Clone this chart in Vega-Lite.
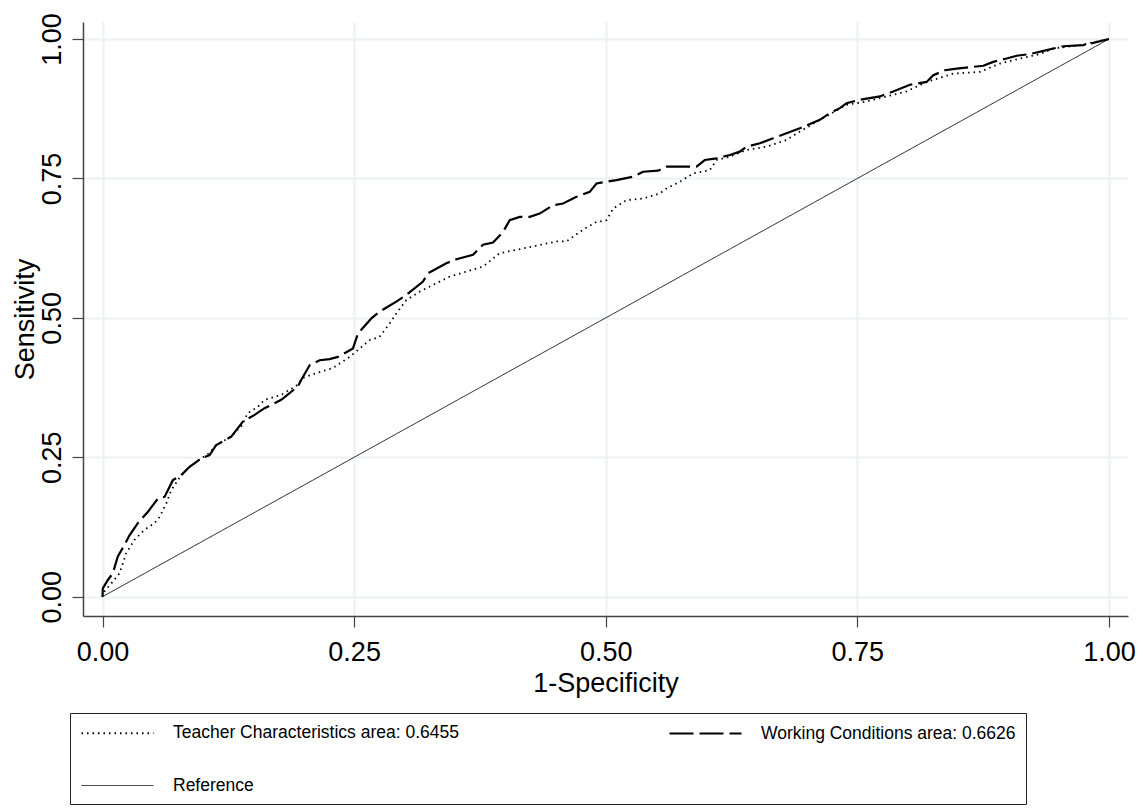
{
  "$schema": "https://vega.github.io/schema/vega-lite/v6.json",
  "width": 1045,
  "height": 594,
  "autosize": "none",
  "padding": {"left": 83, "top": 22, "right": 15, "bottom": 192},
  "background": "white",
  "config": {
    "view": {"stroke": null},
    "font": "Liberation Sans",
    "axis": {
      "labelFont": "Liberation Sans",
      "titleFont": "Liberation Sans",
      "labelFontSize": 27,
      "titleFontSize": 27,
      "labelColor": "#000",
      "titleColor": "#000",
      "titleFontWeight": "normal",
      "domainColor": "#444",
      "domainWidth": 1.5,
      "tickColor": "#444",
      "tickWidth": 1.2,
      "tickSize": 11,
      "gridColor": "#eaf2f3",
      "gridWidth": 2
    }
  },
  "datasets": {
    "roc": [
      {"series": "Teacher Characteristics area: 0.6455", "fpr": 0, "tpr": 0},
      {"series": "Teacher Characteristics area: 0.6455", "fpr": 0.0003, "tpr": 0.006},
      {"series": "Teacher Characteristics area: 0.6455", "fpr": 0.0102, "tpr": 0.027},
      {"series": "Teacher Characteristics area: 0.6455", "fpr": 0.0169, "tpr": 0.042},
      {"series": "Teacher Characteristics area: 0.6455", "fpr": 0.0236, "tpr": 0.078},
      {"series": "Teacher Characteristics area: 0.6455", "fpr": 0.0318, "tpr": 0.102},
      {"series": "Teacher Characteristics area: 0.6455", "fpr": 0.0417, "tpr": 0.120},
      {"series": "Teacher Characteristics area: 0.6455", "fpr": 0.0517, "tpr": 0.132},
      {"series": "Teacher Characteristics area: 0.6455", "fpr": 0.0567, "tpr": 0.143},
      {"series": "Teacher Characteristics area: 0.6455", "fpr": 0.0633, "tpr": 0.167},
      {"series": "Teacher Characteristics area: 0.6455", "fpr": 0.0683, "tpr": 0.191},
      {"series": "Teacher Characteristics area: 0.6455", "fpr": 0.0782, "tpr": 0.218},
      {"series": "Teacher Characteristics area: 0.6455", "fpr": 0.0865, "tpr": 0.233},
      {"series": "Teacher Characteristics area: 0.6455", "fpr": 0.0981, "tpr": 0.248},
      {"series": "Teacher Characteristics area: 0.6455", "fpr": 0.1064, "tpr": 0.258},
      {"series": "Teacher Characteristics area: 0.6455", "fpr": 0.1130, "tpr": 0.272},
      {"series": "Teacher Characteristics area: 0.6455", "fpr": 0.1279, "tpr": 0.287},
      {"series": "Teacher Characteristics area: 0.6455", "fpr": 0.1390, "tpr": 0.308},
      {"series": "Teacher Characteristics area: 0.6455", "fpr": 0.1441, "tpr": 0.329},
      {"series": "Teacher Characteristics area: 0.6455", "fpr": 0.1541, "tpr": 0.340},
      {"series": "Teacher Characteristics area: 0.6455", "fpr": 0.1610, "tpr": 0.353},
      {"series": "Teacher Characteristics area: 0.6455", "fpr": 0.1776, "tpr": 0.362},
      {"series": "Teacher Characteristics area: 0.6455", "fpr": 0.1941, "tpr": 0.380},
      {"series": "Teacher Characteristics area: 0.6455", "fpr": 0.1988, "tpr": 0.392},
      {"series": "Teacher Characteristics area: 0.6455", "fpr": 0.2124, "tpr": 0.401},
      {"series": "Teacher Characteristics area: 0.6455", "fpr": 0.2289, "tpr": 0.410},
      {"series": "Teacher Characteristics area: 0.6455", "fpr": 0.2455, "tpr": 0.430},
      {"series": "Teacher Characteristics area: 0.6455", "fpr": 0.2555, "tpr": 0.445},
      {"series": "Teacher Characteristics area: 0.6455", "fpr": 0.2654, "tpr": 0.460},
      {"series": "Teacher Characteristics area: 0.6455", "fpr": 0.2753, "tpr": 0.466},
      {"series": "Teacher Characteristics area: 0.6455", "fpr": 0.2853, "tpr": 0.490},
      {"series": "Teacher Characteristics area: 0.6455", "fpr": 0.2919, "tpr": 0.508},
      {"series": "Teacher Characteristics area: 0.6455", "fpr": 0.3019, "tpr": 0.532},
      {"series": "Teacher Characteristics area: 0.6455", "fpr": 0.3151, "tpr": 0.547},
      {"series": "Teacher Characteristics area: 0.6455", "fpr": 0.3283, "tpr": 0.559},
      {"series": "Teacher Characteristics area: 0.6455", "fpr": 0.3449, "tpr": 0.574},
      {"series": "Teacher Characteristics area: 0.6455", "fpr": 0.3615, "tpr": 0.583},
      {"series": "Teacher Characteristics area: 0.6455", "fpr": 0.3780, "tpr": 0.592},
      {"series": "Teacher Characteristics area: 0.6455", "fpr": 0.3946, "tpr": 0.616},
      {"series": "Teacher Characteristics area: 0.6455", "fpr": 0.4112, "tpr": 0.622},
      {"series": "Teacher Characteristics area: 0.6455", "fpr": 0.4277, "tpr": 0.628},
      {"series": "Teacher Characteristics area: 0.6455", "fpr": 0.4510, "tpr": 0.637},
      {"series": "Teacher Characteristics area: 0.6455", "fpr": 0.4609, "tpr": 0.637},
      {"series": "Teacher Characteristics area: 0.6455", "fpr": 0.4774, "tpr": 0.658},
      {"series": "Teacher Characteristics area: 0.6455", "fpr": 0.4908, "tpr": 0.672},
      {"series": "Teacher Characteristics area: 0.6455", "fpr": 0.5007, "tpr": 0.675},
      {"series": "Teacher Characteristics area: 0.6455", "fpr": 0.5073, "tpr": 0.696},
      {"series": "Teacher Characteristics area: 0.6455", "fpr": 0.5206, "tpr": 0.711},
      {"series": "Teacher Characteristics area: 0.6455", "fpr": 0.5371, "tpr": 0.714},
      {"series": "Teacher Characteristics area: 0.6455", "fpr": 0.5537, "tpr": 0.723},
      {"series": "Teacher Characteristics area: 0.6455", "fpr": 0.5603, "tpr": 0.732},
      {"series": "Teacher Characteristics area: 0.6455", "fpr": 0.5736, "tpr": 0.744},
      {"series": "Teacher Characteristics area: 0.6455", "fpr": 0.5868, "tpr": 0.759},
      {"series": "Teacher Characteristics area: 0.6455", "fpr": 0.6034, "tpr": 0.765},
      {"series": "Teacher Characteristics area: 0.6455", "fpr": 0.6100, "tpr": 0.783},
      {"series": "Teacher Characteristics area: 0.6455", "fpr": 0.6233, "tpr": 0.789},
      {"series": "Teacher Characteristics area: 0.6455", "fpr": 0.6399, "tpr": 0.801},
      {"series": "Teacher Characteristics area: 0.6455", "fpr": 0.6597, "tpr": 0.807},
      {"series": "Teacher Characteristics area: 0.6455", "fpr": 0.6796, "tpr": 0.819},
      {"series": "Teacher Characteristics area: 0.6455", "fpr": 0.6928, "tpr": 0.834},
      {"series": "Teacher Characteristics area: 0.6455", "fpr": 0.7127, "tpr": 0.855},
      {"series": "Teacher Characteristics area: 0.6455", "fpr": 0.7393, "tpr": 0.882},
      {"series": "Teacher Characteristics area: 0.6455", "fpr": 0.7591, "tpr": 0.888},
      {"series": "Teacher Characteristics area: 0.6455", "fpr": 0.7790, "tpr": 0.897},
      {"series": "Teacher Characteristics area: 0.6455", "fpr": 0.7989, "tpr": 0.906},
      {"series": "Teacher Characteristics area: 0.6455", "fpr": 0.8188, "tpr": 0.923},
      {"series": "Teacher Characteristics area: 0.6455", "fpr": 0.8452, "tpr": 0.938},
      {"series": "Teacher Characteristics area: 0.6455", "fpr": 0.8718, "tpr": 0.941},
      {"series": "Teacher Characteristics area: 0.6455", "fpr": 0.8917, "tpr": 0.956},
      {"series": "Teacher Characteristics area: 0.6455", "fpr": 0.9115, "tpr": 0.965},
      {"series": "Teacher Characteristics area: 0.6455", "fpr": 0.9314, "tpr": 0.973},
      {"series": "Teacher Characteristics area: 0.6455", "fpr": 0.9447, "tpr": 0.983},
      {"series": "Teacher Characteristics area: 0.6455", "fpr": 0.9712, "tpr": 0.989},
      {"series": "Teacher Characteristics area: 0.6455", "fpr": 1, "tpr": 1},
      {"series": "Working Conditions area: 0.6626", "fpr": 0, "tpr": 0},
      {"series": "Working Conditions area: 0.6626", "fpr": 0.0003, "tpr": 0.015},
      {"series": "Working Conditions area: 0.6626", "fpr": 0.0053, "tpr": 0.030},
      {"series": "Working Conditions area: 0.6626", "fpr": 0.0102, "tpr": 0.042},
      {"series": "Working Conditions area: 0.6626", "fpr": 0.0152, "tpr": 0.072},
      {"series": "Working Conditions area: 0.6626", "fpr": 0.0219, "tpr": 0.093},
      {"series": "Working Conditions area: 0.6626", "fpr": 0.0268, "tpr": 0.110},
      {"series": "Working Conditions area: 0.6626", "fpr": 0.0351, "tpr": 0.132},
      {"series": "Working Conditions area: 0.6626", "fpr": 0.0450, "tpr": 0.152},
      {"series": "Working Conditions area: 0.6626", "fpr": 0.0550, "tpr": 0.176},
      {"series": "Working Conditions area: 0.6626", "fpr": 0.0616, "tpr": 0.179},
      {"series": "Working Conditions area: 0.6626", "fpr": 0.0699, "tpr": 0.209},
      {"series": "Working Conditions area: 0.6626", "fpr": 0.0782, "tpr": 0.218},
      {"series": "Working Conditions area: 0.6626", "fpr": 0.0865, "tpr": 0.233},
      {"series": "Working Conditions area: 0.6626", "fpr": 0.0981, "tpr": 0.248},
      {"series": "Working Conditions area: 0.6626", "fpr": 0.1064, "tpr": 0.254},
      {"series": "Working Conditions area: 0.6626", "fpr": 0.1130, "tpr": 0.272},
      {"series": "Working Conditions area: 0.6626", "fpr": 0.1279, "tpr": 0.287},
      {"series": "Working Conditions area: 0.6626", "fpr": 0.1395, "tpr": 0.314},
      {"series": "Working Conditions area: 0.6626", "fpr": 0.1511, "tpr": 0.326},
      {"series": "Working Conditions area: 0.6626", "fpr": 0.1610, "tpr": 0.338},
      {"series": "Working Conditions area: 0.6626", "fpr": 0.1776, "tpr": 0.353},
      {"series": "Working Conditions area: 0.6626", "fpr": 0.1941, "tpr": 0.377},
      {"series": "Working Conditions area: 0.6626", "fpr": 0.1975, "tpr": 0.389},
      {"series": "Working Conditions area: 0.6626", "fpr": 0.2058, "tpr": 0.415},
      {"series": "Working Conditions area: 0.6626", "fpr": 0.2157, "tpr": 0.424},
      {"series": "Working Conditions area: 0.6626", "fpr": 0.2256, "tpr": 0.426},
      {"series": "Working Conditions area: 0.6626", "fpr": 0.2339, "tpr": 0.430},
      {"series": "Working Conditions area: 0.6626", "fpr": 0.2488, "tpr": 0.445},
      {"series": "Working Conditions area: 0.6626", "fpr": 0.2538, "tpr": 0.472},
      {"series": "Working Conditions area: 0.6626", "fpr": 0.2671, "tpr": 0.499},
      {"series": "Working Conditions area: 0.6626", "fpr": 0.2753, "tpr": 0.511},
      {"series": "Working Conditions area: 0.6626", "fpr": 0.2919, "tpr": 0.529},
      {"series": "Working Conditions area: 0.6626", "fpr": 0.3019, "tpr": 0.541},
      {"series": "Working Conditions area: 0.6626", "fpr": 0.3184, "tpr": 0.565},
      {"series": "Working Conditions area: 0.6626", "fpr": 0.3234, "tpr": 0.580},
      {"series": "Working Conditions area: 0.6626", "fpr": 0.3416, "tpr": 0.598},
      {"series": "Working Conditions area: 0.6626", "fpr": 0.3516, "tpr": 0.605},
      {"series": "Working Conditions area: 0.6626", "fpr": 0.3681, "tpr": 0.613},
      {"series": "Working Conditions area: 0.6626", "fpr": 0.3780, "tpr": 0.631},
      {"series": "Working Conditions area: 0.6626", "fpr": 0.3880, "tpr": 0.635},
      {"series": "Working Conditions area: 0.6626", "fpr": 0.3979, "tpr": 0.654},
      {"series": "Working Conditions area: 0.6626", "fpr": 0.4046, "tpr": 0.675},
      {"series": "Working Conditions area: 0.6626", "fpr": 0.4145, "tpr": 0.681},
      {"series": "Working Conditions area: 0.6626", "fpr": 0.4245, "tpr": 0.681},
      {"series": "Working Conditions area: 0.6626", "fpr": 0.4344, "tpr": 0.687},
      {"series": "Working Conditions area: 0.6626", "fpr": 0.4476, "tpr": 0.702},
      {"series": "Working Conditions area: 0.6626", "fpr": 0.4576, "tpr": 0.705},
      {"series": "Working Conditions area: 0.6626", "fpr": 0.4709, "tpr": 0.717},
      {"series": "Working Conditions area: 0.6626", "fpr": 0.4841, "tpr": 0.726},
      {"series": "Working Conditions area: 0.6626", "fpr": 0.4908, "tpr": 0.741},
      {"series": "Working Conditions area: 0.6626", "fpr": 0.5106, "tpr": 0.747},
      {"series": "Working Conditions area: 0.6626", "fpr": 0.5271, "tpr": 0.753},
      {"series": "Working Conditions area: 0.6626", "fpr": 0.5371, "tpr": 0.762},
      {"series": "Working Conditions area: 0.6626", "fpr": 0.5520, "tpr": 0.764},
      {"series": "Working Conditions area: 0.6626", "fpr": 0.5603, "tpr": 0.771},
      {"series": "Working Conditions area: 0.6626", "fpr": 0.5902, "tpr": 0.771},
      {"series": "Working Conditions area: 0.6626", "fpr": 0.5984, "tpr": 0.783},
      {"series": "Working Conditions area: 0.6626", "fpr": 0.6100, "tpr": 0.786},
      {"series": "Working Conditions area: 0.6626", "fpr": 0.6233, "tpr": 0.792},
      {"series": "Working Conditions area: 0.6626", "fpr": 0.6332, "tpr": 0.798},
      {"series": "Working Conditions area: 0.6626", "fpr": 0.6399, "tpr": 0.807},
      {"series": "Working Conditions area: 0.6626", "fpr": 0.6531, "tpr": 0.813},
      {"series": "Working Conditions area: 0.6626", "fpr": 0.6663, "tpr": 0.822},
      {"series": "Working Conditions area: 0.6626", "fpr": 0.6796, "tpr": 0.831},
      {"series": "Working Conditions area: 0.6626", "fpr": 0.6928, "tpr": 0.840},
      {"series": "Working Conditions area: 0.6626", "fpr": 0.7127, "tpr": 0.855},
      {"series": "Working Conditions area: 0.6626", "fpr": 0.7227, "tpr": 0.867},
      {"series": "Working Conditions area: 0.6626", "fpr": 0.7326, "tpr": 0.876},
      {"series": "Working Conditions area: 0.6626", "fpr": 0.7393, "tpr": 0.885},
      {"series": "Working Conditions area: 0.6626", "fpr": 0.7525, "tpr": 0.891},
      {"series": "Working Conditions area: 0.6626", "fpr": 0.7724, "tpr": 0.897},
      {"series": "Working Conditions area: 0.6626", "fpr": 0.7856, "tpr": 0.906},
      {"series": "Working Conditions area: 0.6626", "fpr": 0.8022, "tpr": 0.918},
      {"series": "Working Conditions area: 0.6626", "fpr": 0.8188, "tpr": 0.923},
      {"series": "Working Conditions area: 0.6626", "fpr": 0.8254, "tpr": 0.935},
      {"series": "Working Conditions area: 0.6626", "fpr": 0.8370, "tpr": 0.944},
      {"series": "Working Conditions area: 0.6626", "fpr": 0.8486, "tpr": 0.947},
      {"series": "Working Conditions area: 0.6626", "fpr": 0.8751, "tpr": 0.952},
      {"series": "Working Conditions area: 0.6626", "fpr": 0.8850, "tpr": 0.959},
      {"series": "Working Conditions area: 0.6626", "fpr": 0.8983, "tpr": 0.965},
      {"series": "Working Conditions area: 0.6626", "fpr": 0.9083, "tpr": 0.970},
      {"series": "Working Conditions area: 0.6626", "fpr": 0.9215, "tpr": 0.973},
      {"series": "Working Conditions area: 0.6626", "fpr": 0.9381, "tpr": 0.980},
      {"series": "Working Conditions area: 0.6626", "fpr": 0.9546, "tpr": 0.987},
      {"series": "Working Conditions area: 0.6626", "fpr": 0.9744, "tpr": 0.989},
      {"series": "Working Conditions area: 0.6626", "fpr": 0.9844, "tpr": 0.993},
      {"series": "Working Conditions area: 0.6626", "fpr": 1, "tpr": 1},
      {"series": "Reference", "fpr": 0, "tpr": 0},
      {"series": "Reference", "fpr": 1, "tpr": 1}
    ]
  },
  "data": {"name": "roc"},
  "mark": {"type": "line", "color": "black", "interpolate": "linear"},
  "encoding": {
    "x": {
      "field": "fpr",
      "type": "quantitative",
      "scale": {"domain": [-0.0194, 1.0189], "nice": false, "zero": false},
      "axis": {
        "title": "1-Specificity",
        "values": [0, 0.25, 0.5, 0.75, 1],
        "format": ".2f",
        "labelBaseline": "alphabetic",
        "labelPadding": 33,
        "labelFlush": false,
        "titleY": 75,
        "titleBaseline": "alphabetic"
      }
    },
    "y": {
      "field": "tpr",
      "type": "quantitative",
      "scale": {"domain": [-0.0346, 1.0305], "nice": false, "zero": false},
      "axis": {
        "title": "Sensitivity",
        "values": [0, 0.25, 0.5, 0.75, 1],
        "format": ".2f",
        "labelAngle": 270,
        "labelAlign": "center",
        "labelBaseline": "alphabetic",
        "labelPadding": 12,
        "labelFlush": false,
        "titleX": -50,
        "titleBaseline": "alphabetic",
        "titleAngle": 270
      }
    },
    "strokeDash": {
      "field": "series",
      "type": "nominal",
      "scale": {
        "domain": ["Teacher Characteristics area: 0.6455", "Working Conditions area: 0.6626", "Reference"],
        "range": [[1.5, 4], [24, 6], [1, 0]]
      },
      "legend": {
        "title": null,
        "orient": "none",
        "legendX": -13,
        "legendY": 691,
        "direction": "horizontal",
        "columns": 2,
        "columnPadding": 206,
        "rowPadding": 34,
        "padding": 10,
        "strokeColor": "#222",
        "fillColor": "white",
        "symbolType": "M-1,0H7",
        "symbolSize": 324,
        "symbolStrokeColor": "black",
        "symbolStrokeWidth": 1.2,
        "labelFont": "Liberation Sans",
        "labelFontSize": 17.5,
        "labelColor": "#000",
        "labelLimit": 500,
        "labelOffset": 72
      }
    },
    "strokeWidth": {
      "field": "series",
      "type": "nominal",
      "scale": {
        "type": "ordinal",
        "domain": ["Teacher Characteristics area: 0.6455", "Working Conditions area: 0.6626", "Reference"],
        "range": [1.8, 2.2, 0.9]
      },
      "legend": null
    }
  }
}
